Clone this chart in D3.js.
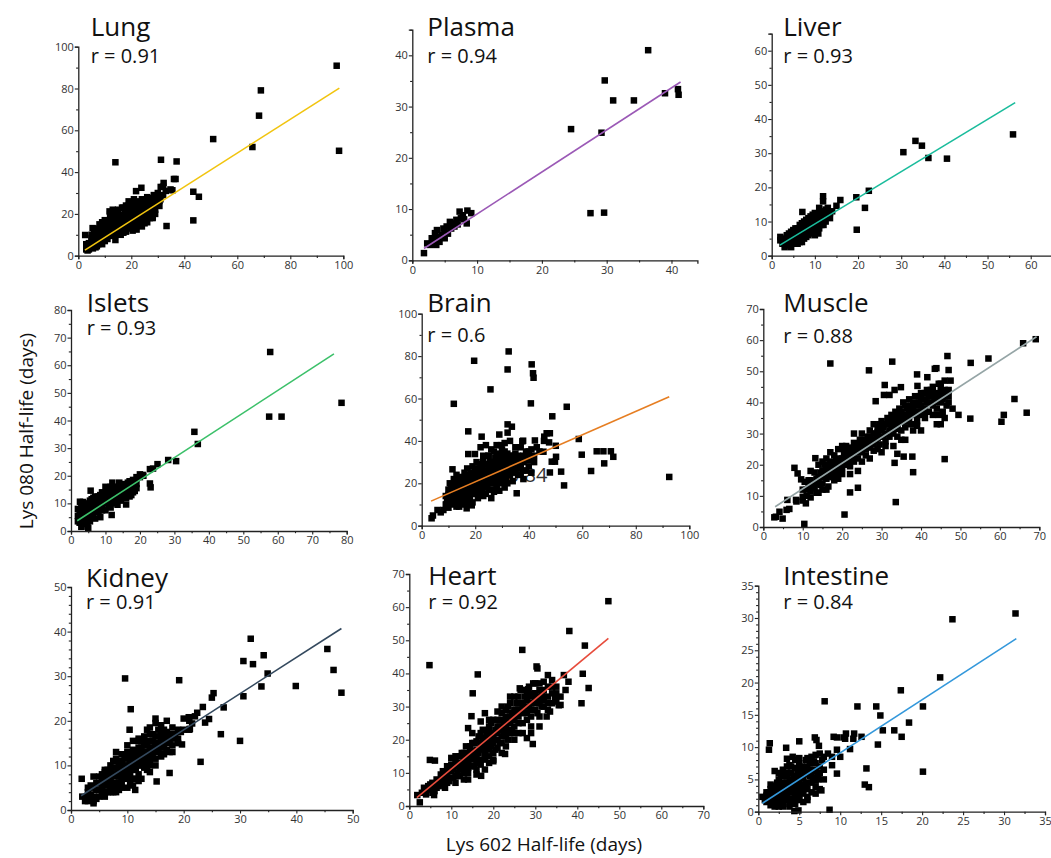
<!DOCTYPE html>
<html>
<head>
<meta charset="utf-8">
<script src="https://cdn.jsdelivr.net/npm/d3@7"></script>
<style>
	body { margin: 0; background: #fff; }
	svg { display: block; font-family: "Open Sans", sans-serif; }
</style>
</head>
<body>
<svg id="chart" width="1051" height="858"></svg>
<script>
	'use strict';

	// ---- data ----
	var tissues = ['Lung', 'Plasma', 'Liver', 'Islets', 'Brain', 'Muscle', 'Kidney', 'Heart', 'Intestine'];
	var rValues = ['0.91', '0.94', '0.93', '0.93', '0.6', '0.88', '0.91', '0.92', '0.84'];
	var lineColors = ['#f1c40f', '#9b59b6', '#1abc9c', '#3cc06a', '#e67e22', '#95a5a6', '#34495e', '#e74c3c', '#3498db'];

	var xDomains = [[0, 100], [0, 44], [0, 65], [0, 80], [0, 100], [0, 70], [0, 50], [0, 70], [0, 35]];
	var yDomains = [[0, 100], [0, 45], [0, 65], [0, 80], [0, 100], [0, 70], [0, 50], [0, 70], [0, 35]];

	var lungTicks = [0, 20, 40, 60, 80, 100];
	var plasmaTicks = [0, 10, 20, 30, 40];
	var liverTicks = [0, 10, 20, 30, 40, 50, 60];
	var isletsTicks = [0, 10, 20, 30, 40, 50, 60, 70, 80];
	var brainTicks = [0, 20, 40, 60, 80, 100];
	var muscleTicks = [0, 10, 20, 30, 40, 50, 60, 70];
	var kidneyTicks = [0, 10, 20, 30, 40, 50];
	var heartTicks = [0, 10, 20, 30, 40, 50, 60, 70];
	var intestineTicks = [0, 5, 10, 15, 20, 25, 30, 35];

	var lungFit = [[2.5, 2.7], [98.5, 80.2]];
	var plasmaFit = [[1.8, 2.3], [41.4, 34.8]];
	var liverFit = [[1.9, 3.1], [56.4, 44.8]];
	var isletsFit = [[1.8, 3.7], [76.3, 64.1]];
	var brainFit = [[3.5, 11.6], [92.5, 60.8]];
	var muscleFit = [[3, 6.5], [69.3, 61.1]];
	var kidneyFit = [[1.8, 3.2], [48, 40.7]];
	var heartFit = [[1.8, 2.5], [47.4, 50.6]];
	var intestineFit = [[0.5, 1.3], [31.5, 26.8]];

	var lungPts = [
		[97.5, 90.9], [68.9, 79.1], [68.2, 67.0], [65.7, 52.0], [98.4, 50.2], [50.9, 55.8], [14.0, 44.7], [31.2, 45.9],
		[37.1, 45.1], [43.4, 30.6], [45.5, 28.2], [43.4, 16.9], [33.3, 14.2], [2.6, 9.9], [5.4, 13.2], [11.8, 21.2],
		[21.8, 30.9], [23.8, 32.5], [36.1, 36.7], [36.7, 36.7], [32.2, 34.8], [31.1, 32.9], [34.8, 31.7], [35.5, 31.3],
		[30.6, 23.8], [30.6, 26.2], [28.1, 18.3], [27.7, 26.6], [25.8, 27],
		[3, 3], [3.5, 4.5], [4, 3], [4, 6], [4.5, 5], [5, 4], [5, 7], [5.5, 3.5], [6, 5.5], [6, 8], [6.5, 6.5], [7, 4.5],
		[7, 9], [7.5, 7], [8, 6], [8, 10], [8.5, 8], [9, 5.5], [9, 11.5], [9.5, 9], [10, 7], [10, 13], [10.5, 10.5],
		[11, 8], [11, 15], [11.5, 12], [12, 9.5], [12, 17], [12.5, 13.5], [13, 11], [13, 19], [13.5, 15.5], [14, 10],
		[14, 20], [14.5, 13], [15, 17], [15, 22], [15.5, 12], [16, 15], [16, 19.5], [16.5, 23], [17, 13], [17, 17],
		[17.5, 21], [18, 11.5], [18, 15], [18, 24], [18.5, 19], [19, 13], [19, 22], [19.5, 17], [20, 15], [20, 20],
		[20, 25], [20.5, 12], [21, 18], [21, 23], [21.5, 14.5], [22, 21], [22, 26], [22.5, 17], [23, 19], [23, 24],
		[23.5, 15], [24, 22], [24, 27], [25, 18], [25, 25], [25.5, 21], [26, 16], [26, 28], [26.5, 23], [27, 20],
		[27, 26], [28, 18], [28, 24], [28.5, 29], [29, 22], [29, 27], [30, 25], [30, 30], [31, 27], [32, 29], [32, 33],
		[33, 31], [11, 12], [13, 14], [15, 14], [17, 19], [19, 18], [21, 20], [23, 21], [8, 8], [10, 9], [12, 11],
		[6, 7], [14, 16], [16, 16], [18, 18], [20, 18], [22, 22], [24, 20], [25, 22], [27, 23], [7, 13], [8, 15],
		[9, 16], [10, 17], [6, 11], [5, 10], [12, 20], [13, 22], [14, 7.5], [16, 10], [22, 12.5], [24, 14], [26, 19],
		[19, 26], [21, 27],
		[3.5, 2.5], [4.5, 3.8], [5.5, 5.5], [6.5, 4], [7.5, 5.5], [8.5, 6.8], [9.5, 7.5], [10.5, 8.5], [11.5, 9.5],
		[12.5, 10.5], [13.5, 12], [14.5, 14.5], [15.5, 16], [16.5, 17], [17.5, 18.5], [18.5, 20.5], [19.5, 21],
		[20.5, 22], [21.5, 24], [22.5, 23], [23.5, 25.5], [24.5, 24], [25.5, 26], [26.5, 25], [27.5, 27.5], [28.5, 26],
		[29.5, 28], [7, 11], [9, 13.5], [11, 16.5], [13, 17], [15, 19.5], [17, 23], [19, 24], [10, 11], [12, 13],
		[14, 14.5], [16, 13.5], [18, 16.5], [20, 16.5], [22, 18.5], [24, 17], [26, 21.5], [28, 21], [15, 11], [17, 11],
		[19, 14.5], [21, 15.5], [23, 17.5], [25, 15.5], [27, 18], [29, 20], [6.5, 9.5], [8.5, 12], [5, 8.5], [4, 4.5],
		[3, 5.5]
	];

	var plasmaPts = [
		[36.4, 41.0], [29.7, 35.1], [31.0, 31.2], [34.2, 31.2], [39.0, 32.6], [41.0, 33.4], [41.1, 32.3], [24.5, 25.6],
		[29.2, 24.9], [27.5, 9.2], [29.6, 9.3], [1.8, 1.4],
		[2.3, 3.3], [2.7, 3.0], [3, 4.3], [3.2, 3.5], [3.5, 5.3], [3.7, 3.0], [3.8, 5.9], [4, 4.5], [4.2, 3.6], [4.5, 5],
		[5, 4.3], [5.3, 6.6], [5.5, 5.2], [5.8, 7.5], [6, 6.2], [6.5, 6.6], [6.8, 7.9], [7, 7], [7.3, 9.5], [7.5, 8.2],
		[8, 8], [8.4, 7.2], [8.5, 9.7], [9.1, 9.2], [4.8, 6.2], [3, 3.2], [6.2, 7.2], [7.8, 8.8], [5, 5.8], [4, 4]
	];

	var liverPts = [
		[55.9, 35.5], [30.5, 30.3], [33.3, 33.6], [34.8, 32.2], [36.3, 28.6], [40.6, 28.4], [19.6, 17.1], [22.5, 19.0],
		[21.6, 14.0], [19.7, 7.6], [15.9, 16.3], [15.0, 14.6], [11.9, 17.4], [11.9, 15.9], [7.1, 12.8], [10.8, 6.5],
		[2, 4.5], [2, 5.5], [2.5, 3.5], [3, 5], [3, 2.5], [3.5, 4], [3.5, 6], [4, 3], [4, 5], [4.5, 2.5], [4.5, 7],
		[5, 4], [5, 6], [5.5, 3.5], [5.5, 8], [6, 5], [6, 7], [6.5, 4], [6.5, 9], [7, 6], [7, 8], [7.5, 5], [7.5, 10],
		[8, 7], [8, 9], [8.5, 6], [8.5, 11], [9, 8], [9, 10], [9.5, 7], [9.5, 12], [10, 9], [10, 11], [10.5, 7.5],
		[10.5, 10], [11, 9], [11, 12.5], [11.5, 10.5], [12, 11.5], [12, 13], [12.5, 10], [13, 12], [13, 14], [13.5, 11],
		[14, 13], [9, 6.5], [10, 6], [11, 8], [8, 5.5], [7, 4], [6, 3.5], [12, 9],
		[2.5, 4.8], [3, 3.8], [3.5, 5], [4, 6.5], [4.5, 5.5], [5, 5], [5, 7.5], [5.5, 6], [6, 8], [6, 6], [6.5, 7],
		[7, 7], [7, 9.5], [7.5, 8.5], [8, 8], [8, 10.5], [8.5, 9.5], [9, 9], [9, 11.5], [9.5, 10.5], [10, 10],
		[10, 12.5], [10.5, 11.5], [11, 10], [11, 14], [11.5, 12.5], [12, 12], [12.5, 13.5], [13, 13], [13.5, 12.5],
		[12, 10.5], [10, 7.5], [8.5, 7.5], [7.5, 6.5], [6.5, 5.5], [5.5, 4.5], [4.5, 4], [9.5, 8.5], [11.5, 9], [3, 4.3]
	];

	var isletsPts = [
		[57.8, 64.8], [57.5, 41.4], [61.1, 41.4], [78.5, 46.4], [35.8, 35.9], [36.8, 31.5], [28.2, 25.7], [30.5, 25.3],
		[25.1, 24.2], [22.9, 22.4], [23.8, 22.6], [22.9, 17.2], [23.1, 15.8], [20.8, 20.3], [20, 19.5], [11.8, 5.8],
		[5.7, 14.6], [16, 9.6], [2.6, 10.6], [4.8, 1.6], [5, 1],
		[2, 5.5], [2.5, 3], [2.5, 7.5], [3, 1.5], [3, 9], [3.5, 5], [3.5, 10.5], [4, 3], [4, 7], [4.5, 9], [4.5, 4.5],
		[5, 6], [5, 10], [5.5, 3.5], [6, 8], [6, 11.5], [6.5, 5.5], [7, 9.5], [7, 4.5], [7.5, 11], [8, 7], [8, 12.5],
		[8.5, 5], [9, 9], [9, 14], [9.5, 11], [10, 7.5], [10, 13], [10, 16], [10.5, 10], [11, 12], [11, 15], [11.5, 8.5],
		[12, 14], [12, 17.5], [12.5, 11], [13, 13], [13, 16], [13.5, 9.5], [14, 12], [14, 15], [14, 17.5], [14.5, 11],
		[15, 14], [15, 16.5], [15.5, 13], [16, 12], [16, 15.5], [16.5, 17.5], [17, 14], [17, 18], [17.5, 13], [18, 16],
		[18, 18.5], [18.5, 14.5], [19, 17], [19, 19.5], [20, 20.5], [21, 20], [17, 12.5], [13, 10.5], [11, 10],
		[8, 8.5], [6, 7], [4, 5], [5.5, 8], [9, 11.5], [12, 12],
		[2, 3.5], [2, 8], [3, 6.5], [3.5, 7.5], [4, 9.5], [4.5, 6], [5, 8], [5.5, 11], [6, 5], [6, 9.5], [6.5, 12],
		[7, 7], [7.5, 8.5], [8, 10], [8.5, 13], [9, 7.5], [9.5, 13], [10, 10], [10.5, 14], [11, 9], [11.5, 16],
		[12, 10], [12.5, 15], [13, 12], [13.5, 14], [14, 13.5], [14.5, 16], [15, 12.5], [15.5, 17], [16, 14],
		[16.5, 15.5], [17, 16], [17.5, 17], [18, 14], [18.5, 18], [19, 15.5], [10, 12], [8, 11], [7, 12.5], [12, 16],
		[3, 3.5], [4.5, 2.5], [5, 4.5]
	];

	var brainPts = [
		[32.5, 82.2], [19.6, 77.8], [32.1, 73.7], [41.1, 76.1], [41.6, 71.9], [41.8, 69.8], [25.7, 64.3], [12.0, 57.5],
		[40.8, 57.7], [54.2, 56.1], [48.8, 51.6], [17.4, 44.5], [32.1, 47.8], [33.7, 46.7], [32.1, 43.9], [22.4, 42.0],
		[58.7, 40.9], [59.8, 33.5], [65.4, 35.1], [67.9, 35.1], [70.7, 35.1], [68.2, 29.4], [71.6, 32.5], [63.3, 25.8],
		[52.1, 25.5], [53.2, 19.0], [92.5, 23.0], [50.2, 32.5], [48.6, 30.2], [49.8, 30.2], [47.9, 25.1], [46.7, 43.6],
		[47.9, 43.6], [45.8, 42], [45.7, 40], [47.6, 39.3], [50.1, 37.7], [45.5, 34.9], [42.3, 40.2], [37.6, 39.8],
		[17.4, 33.8], [19.9, 33.8], [16.8, 8.2], [18.7, 9.6], [35.5, 15.3], [3.7, 3.5], [4.2, 4.8], [5.9, 7.4],
		[7.1, 6.3], [9.3, 10.2], [8.1, 7.4], [11.5, 26.6], [28, 33], [29.6, 38], [37.9, 40.1],
		[9, 10], [9, 14], [10, 12], [10, 17], [10, 8.5], [11, 11], [11, 15], [11, 19], [11.5, 13], [12, 10], [12, 17],
		[12, 22], [12.5, 14], [13, 12], [13, 19], [13, 24], [13.5, 16], [14, 11], [14, 14], [14, 21], [14.5, 18],
		[15, 13], [15, 16], [15, 23], [15.5, 20], [16, 12], [16, 18], [16, 25], [16.5, 15], [17, 21], [17, 27],
		[17.5, 17], [18, 14], [18, 19], [18, 24], [18.5, 16], [19, 22], [19, 28], [19.5, 18], [20, 15], [20, 20],
		[20, 25], [20.5, 30], [21, 17], [21, 23], [21.5, 27], [22, 19], [22, 21], [22, 29], [22.5, 16], [23, 24],
		[23, 31], [23.5, 20], [24, 18], [24, 26], [24.5, 22], [25, 28], [25, 33], [25.5, 20], [26, 24], [26, 30],
		[26.5, 17], [27, 22], [27, 27], [27.5, 32], [28, 19], [28, 25], [28.5, 29], [29, 23], [29, 34], [29.5, 27],
		[30, 20], [30, 31], [30.5, 25], [31, 28], [31, 35], [31.5, 22], [32, 30], [32, 26], [33, 33], [33, 24],
		[33.5, 28], [34, 31], [34, 21], [35, 26], [35, 34], [36, 29], [36, 24], [37, 32], [37, 27], [38, 30],
		[38, 22], [39, 35], [39, 26], [40, 31], [40, 28], [41, 36], [41, 25], [42, 30], [42, 33], [43, 37], [44, 35],
		[21, 13], [19, 11], [17, 10.5], [24, 15], [27, 16], [31, 18], [23, 14], [26, 13], [29, 16.5], [13, 9],
		[15, 10], [25, 24], [24, 23], [28, 27], [30, 26], [32, 32], [20, 22], [22, 25], [18, 21], [16, 20], [14, 17],
		[12, 15], [26, 27], [34, 27], [36, 31], [38, 33], [40, 35],
		[10, 14.5], [10.5, 20], [11, 13], [11.5, 17], [12, 19.5], [12.5, 12], [13, 15], [13, 21.5], [13.5, 18],
		[14, 12.5], [14, 19], [14.5, 15.5], [15, 18], [15, 21], [15.5, 14], [16, 16], [16, 22], [16.5, 19], [17, 15],
		[17, 23], [17.5, 19.5], [18, 17], [18, 22], [18.5, 25], [19, 16], [19, 20], [19.5, 23], [20, 18], [20, 27],
		[20.5, 21], [21, 19], [21, 25], [21.5, 22], [22, 17], [22, 23], [22.5, 27], [23, 20], [23, 22], [23.5, 26],
		[24, 24], [24, 29], [24.5, 19], [25, 22], [25, 26], [25.5, 30], [26, 21], [26, 28], [26.5, 25], [27, 24],
		[27, 30], [27.5, 20], [28, 23], [28, 29], [28.5, 26], [29, 21], [29, 30], [29.5, 24], [30, 28], [30, 33],
		[30.5, 22], [31, 25], [31, 31], [31.5, 29], [32, 24], [32, 34], [33, 27], [33, 30], [34, 25], [34, 33],
		[35, 29], [35, 31], [36, 27], [36, 33], [37, 29], [38, 26], [39, 31], [40, 33], [37, 24], [22, 14.5],
		[25, 17], [28, 17.5], [32, 20], [18, 12.5], [14, 9], [11, 17], [10, 10.5], [9.5, 12],
		[22, 37], [24, 38], [26, 36], [28, 38], [30, 36], [31, 39], [33, 40], [29, 43], [35, 37], [37, 37], [27, 35],
		[25, 33], [23, 33]
	];

	var musclePts = [
		[69.1, 60.3], [65.9, 59.0], [57.1, 54.1], [52.6, 52.7], [46.7, 54.9], [47.0, 50.4], [43.9, 51.0], [43.5, 50.8],
		[32.7, 53.1], [26.8, 50.3], [17.0, 52.5], [63.7, 41.1], [61.0, 36.0], [60.4, 33.8], [66.8, 36.7], [52.5, 34.8],
		[49.5, 36.0], [46.0, 21.8], [38.0, 17.6], [33.6, 8.0], [20.6, 4.0], [10.4, 1.0], [24.0, 12.6], [22.0, 11.1],
		[33.3, 20.6], [35.6, 22.6], [37.8, 22.6], [30.6, 42.4], [32.0, 42.4], [34.9, 44.9], [30.8, 45.6], [33.3, 44.0],
		[39.0, 49.0], [41.6, 48.1], [39.1, 45.3], [28.5, 40.4], [7.9, 19.0], [8.7, 17.2], [9.6, 15.3], [13.2, 22.1],
		[3.2, 3.3], [2.8, 3.1], [4.9, 2.7], [4.1, 4.9], [5.9, 5.5], [6.6, 5.8], [6.1, 8.7], [8.3, 8.7], [8.4, 8.2],
		[10, 9.7], [10.8, 7.6],
		[10, 12], [10.5, 14.5], [11, 10], [11.5, 13], [12, 11.5], [12, 15], [12.5, 12.5], [13, 14], [13, 17.5],
		[13.5, 11], [14, 16], [14.5, 13.5], [15, 18], [15, 14], [15.5, 20], [16, 15.5], [16, 22], [16.5, 13], [17, 18],
		[17, 21], [17.5, 16], [18, 20], [18, 23], [18.5, 17], [19, 21], [19, 25], [19.5, 18.5], [20, 22], [20, 19],
		[20.5, 24], [21, 20], [21, 26], [21.5, 22], [22, 23.5], [22, 19.5], [22.5, 25.5], [23, 21], [23, 27],
		[23.5, 24], [24, 22], [24, 26], [24.5, 28], [25, 24], [25, 30], [25.5, 26], [26, 27], [26, 23], [26.5, 29],
		[27, 25.5], [27, 31], [27.5, 28], [28, 27], [28, 33], [28.5, 30], [29, 28.5], [29, 32], [29.5, 26.5], [30, 31],
		[30, 34], [30.5, 29], [31, 33], [31, 27.5], [31.5, 35], [32, 31], [32, 29], [32.5, 36], [33, 33], [33, 30],
		[33.5, 37], [34, 35], [34, 31.5], [34.5, 38], [35, 34], [35, 28], [35.5, 40], [36, 36], [36, 32], [36.5, 38],
		[37, 35], [37, 41], [37.5, 33], [38, 38], [38, 36], [38.5, 42], [39, 37], [39, 34], [39.5, 40], [40, 39],
		[40, 43], [40.5, 36], [41, 41], [41, 38], [41.5, 44], [42, 40], [42, 37], [42.5, 42], [43, 39], [43, 45],
		[43.5, 41], [44, 43], [44, 38], [44.5, 46], [45, 40], [45, 44], [45.5, 37], [46, 42], [46, 47], [46.5, 39],
		[47, 44], [47, 40], [47.5, 47], [48, 38], [44.5, 36], [45, 33], [40, 31], [38, 31], [39, 32.5], [36, 28],
		[33, 26], [34, 23.5], [29, 25], [27, 22], [24, 18], [20, 17], [18, 15], [16, 12], [14, 11], [12, 9.5],
		[15, 12], [10, 8.5], [19, 15.5], [23, 30], [20, 26], [17, 24], [14, 20], [12, 18], [15, 21],
		[11, 12], [11.5, 15], [12, 13.5], [13, 12.5], [13.5, 15.5], [14, 14], [14.5, 17.5], [15, 16], [15.5, 17],
		[16, 18.5], [16.5, 20], [17, 16.5], [17.5, 19], [18, 18], [18.5, 21.5], [19, 19.5], [19.5, 22], [20, 20.5],
		[20.5, 22.5], [21, 23.5], [21.5, 20.5], [22, 25], [22.5, 22], [23, 24.5], [23.5, 26], [24, 24], [24.5, 25.5],
		[25, 27], [25.5, 28], [26, 25], [26.5, 27], [27, 29], [27.5, 26.5], [28, 30], [28.5, 28], [29, 30.5],
		[29.5, 33], [30, 29], [30.5, 32], [31, 30], [31.5, 33], [32, 34], [32.5, 32], [33, 35], [33.5, 34], [34, 33],
		[34.5, 36], [35, 37], [35.5, 35], [36, 39], [36.5, 34], [37, 37], [37.5, 39], [38, 40], [38.5, 37], [39, 39],
		[39.5, 42], [40, 41], [40.5, 38], [41, 43], [41.5, 40], [42, 42], [42.5, 44], [43, 43], [43.5, 40], [44, 41],
		[44.5, 42], [45, 46], [45.5, 41], [46, 44], [47, 42], [39, 36], [36, 34], [34, 29], [31, 26], [28, 24.5],
		[25, 21], [22, 17], [30, 24], [41, 35], [43, 36], [46, 35], [44, 33], [35, 31]
	];

	var kidneyPts = [
		[1.9, 7.0], [9.6, 29.5], [10.6, 22.6], [10.4, 18.0], [19.2, 29.1], [31.9, 38.4], [30.6, 33.4], [32.3, 32.7],
		[34.2, 34.7], [34.9, 30.6], [33.8, 27.7], [39.9, 27.8], [45.5, 36.1], [46.6, 31.4], [48.0, 26.3], [30.6, 25.5],
		[30.0, 15.5], [26.6, 17.0], [27.1, 23.0], [25.3, 26.2], [25.0, 25.2], [23.4, 23.1], [23.8, 19.6], [24.5, 20.4],
		[23.0, 10.8], [19.7, 14.7], [17.5, 8.3], [15.2, 6.4], [11.4, 4.5], [22.4, 21.8], [20.9, 20.8], [21.1, 18.2],
		[21.5, 19.4],
		[2, 3], [2.5, 2], [3, 4], [3.5, 5.5], [4, 1.5], [4, 3], [4, 7.5], [4.5, 4.5], [5, 6], [5, 3], [5.5, 8],
		[5.5, 5], [6, 4], [6, 7], [6.5, 9], [6.5, 5.5], [7, 6.5], [7, 10], [7.5, 4], [7.5, 8], [8, 9.5], [8, 6],
		[8.5, 11], [8.5, 7.5], [9, 5], [9, 9], [9.5, 12], [9.5, 7], [10, 10], [10, 8], [10.5, 12.5], [10.5, 6],
		[11, 11], [11, 9], [11, 15.5], [11.5, 13], [11.5, 7], [12, 10], [12, 14], [12, 16], [12.5, 12], [13, 9.5],
		[13, 13], [13, 15.5], [13.5, 11], [14, 14], [14, 17], [14, 8.5], [14.5, 12], [15, 15], [15, 10], [15, 19.5],
		[15.5, 13], [16, 16], [16, 12], [16.5, 18], [16.5, 14], [17, 15], [17, 20], [17.5, 13], [18, 17], [18, 14.5],
		[19, 16], [19, 18], [20, 18], [20, 20.5], [21, 20], [21, 18], [22, 21], [13.5, 18], [15, 20.5], [12.5, 7],
		[10, 5], [8, 4], [6, 8.5], [3, 3], [9, 10.5], [11, 12], [14, 11],
		[3, 2], [3.5, 3.5], [4, 5], [4.5, 6], [4.5, 2.5], [5, 4.5], [5, 7.5], [5.5, 3.5], [5.5, 6.5], [6, 5.5], [6, 9],
		[6.5, 4], [6.5, 7.5], [7, 5], [7, 8.5], [7.5, 6], [7.5, 9.5], [7.5, 11], [8, 7.5], [8, 5], [8, 11.5], [8.5, 9],
		[8.5, 4.5], [9, 7], [9, 11], [9.5, 8.5], [9.5, 10], [10, 9], [10, 11.5], [10, 13], [10.5, 8], [10.5, 10.5],
		[11, 7], [11, 13.5], [11.5, 11], [11.5, 9], [12, 12], [12, 8], [12.5, 14], [12.5, 10], [13, 11.5], [13, 14.5],
		[13, 16.5], [13.5, 13], [13.5, 9], [14, 12], [14, 15.5], [14, 10], [14.5, 14], [14.5, 17], [15, 13],
		[15, 16.5], [15, 11.5], [15.5, 15], [15.5, 18], [16, 14], [16, 17], [16.5, 12.5], [16.5, 16], [17, 17.5],
		[17, 13.5], [17.5, 15.5], [18, 13], [18, 16], [18.5, 17], [19, 15], [19.5, 17.5], [9, 6], [7, 4], [6, 3],
		[11, 5.5], [12, 6.5], [4, 2], [3, 5], [10, 14.5], [12, 15.5], [14, 18.5], [16, 19], [8, 13],
		[6.5, 6.5], [7, 7.5], [8, 8], [8.5, 10], [9, 8], [9.5, 9.5], [10, 7], [10.5, 9.5], [11, 10], [11.5, 12],
		[12, 11], [12.5, 13], [13, 12], [13.5, 14.5], [14, 13], [14.5, 15.5], [15, 14], [15.5, 16.5], [16, 15],
		[16.5, 17], [17, 16.5], [18, 18.5], [12, 13], [13, 10.5], [10, 12], [9, 12.5]
	];

	var heartPts = [
		[4.8, 42.5], [16.3, 39.7], [15.1, 34.0], [14.8, 27.1], [26.9, 47.1], [38.1, 52.8], [41.8, 48.4], [47.4, 61.8],
		[41.3, 39.9], [42.7, 35.6], [41.0, 31.0], [37.9, 37.5], [37.2, 35.0], [36.8, 39.5], [32.7, 27.0], [29.4, 18.7],
		[22.8, 15.7], [17.1, 9.1], [4.9, 13.9], [6.1, 13.7], [2.5, 1.1], [1.9, 3.3], [5.9, 3.3], [30.3, 42.1],
		[30.5, 41.5], [35.6, 30.4], [34.7, 32.5], [28.3, 35.2], [26.3, 35.5],
		[3, 4], [3.5, 5.5], [4, 3.5], [4.5, 6], [5, 5], [5.5, 7], [6, 4.5], [6.5, 8], [7, 6], [7.5, 9.5], [8, 7],
		[8, 10.5], [8.5, 5.5], [9, 9], [9, 12], [9.5, 7.5], [10, 10.5], [10, 14.5], [10.5, 8.5], [11, 12], [11, 15],
		[11.5, 10], [12, 13], [12, 9], [12.5, 16], [13, 11.5], [13, 14.5], [13.5, 18], [14, 13], [14, 10], [14.5, 16.5],
		[15, 12], [15, 19], [15.5, 15], [16, 17], [16, 11], [16.5, 21], [17, 14], [17, 19], [17.5, 23], [18, 16.5],
		[18, 28], [18.5, 20], [19, 15], [19, 24], [19.5, 18], [20, 22], [20, 26], [20.5, 17], [21, 20], [21, 28.5],
		[21.5, 24], [22, 19], [22, 26], [22.5, 22], [23, 29], [23, 24.5], [23.5, 20], [24, 27], [24, 31], [24.5, 23],
		[25, 26], [25, 33], [25.5, 29], [26, 25], [26, 31], [26.5, 35], [27, 28], [27, 22], [27.5, 33], [28, 30],
		[28, 26], [28.5, 36], [29, 31], [29, 24], [29.5, 34], [30, 29], [30, 37], [30.5, 32], [31, 27], [31, 35],
		[31.5, 30], [32, 33], [32, 37.5], [33, 31], [33, 36], [33.5, 28.5], [34, 34], [34, 38], [35, 31.5], [35, 36],
		[36, 30.5], [33, 39.5], [28, 20.5], [25, 20], [22, 16], [19, 13], [16, 9.5], [13, 8], [11, 7], [20, 13.5],
		[17, 25.5], [15, 22], [14, 23.5],
		[4, 5], [5, 6.5], [5.5, 4], [6, 6], [6.5, 5.5], [7, 7.5], [7.5, 6.5], [8, 8.5], [8.5, 9], [9, 7], [9, 10.5],
		[9.5, 11], [10, 8.5], [10, 12.5], [10.5, 11], [11, 9], [11, 13.5], [11.5, 12.5], [12, 11], [12, 15], [12.5, 13],
		[13, 10], [13, 16], [13.5, 13], [14, 15], [14, 11.5], [14.5, 18], [15, 14], [15, 16.5], [15.5, 12], [15.5, 19],
		[16, 14.5], [16, 19.5], [16.5, 16], [17, 17], [17, 12.5], [17.5, 20.5], [18, 18], [18, 14], [18.5, 22],
		[19, 17], [19, 21], [19.5, 25], [20, 19], [20, 16], [20.5, 23], [21, 22], [21, 26], [21.5, 19], [22, 23],
		[22, 28], [22.5, 25], [23, 21], [23, 27], [23.5, 30], [24, 25], [24, 22], [24.5, 28], [25, 29], [25, 24],
		[25.5, 31], [26, 27], [26, 33], [26.5, 29], [27, 31], [27, 25], [27.5, 35], [28, 32], [28, 28], [28.5, 30],
		[29, 33], [29, 27], [29.5, 37], [30, 31], [30, 34], [30.5, 28], [31, 33], [31, 37], [31.5, 34], [32, 30],
		[32, 35], [33, 33], [33, 29], [34, 36], [34, 31], [35, 34], [36, 33], [23, 18], [26, 22], [29, 22], [31, 24],
		[20, 14], [18, 11], [14, 8], [24, 33], [22, 30], [19, 26], [17, 22],
		[12, 12], [13, 13], [14, 14], [15, 15], [16, 16], [17, 18], [18, 19.5], [19, 19], [20, 20.5], [21, 24],
		[22, 21], [23, 23], [24, 26], [25, 27.5], [26, 29], [27, 30], [28, 34], [29, 29], [30, 32.5], [31, 31],
		[32, 32], [25, 22], [21, 17.5], [18, 15], [16, 13], [19, 23], [23, 26]
	];

	var intestinePts = [
		[31.4, 30.7], [23.7, 29.8], [22.2, 20.8], [17.4, 18.8], [20.1, 16.3], [14.4, 16.3], [12.1, 16.3], [8.1, 17.1],
		[14.9, 14.9], [18.4, 13.8], [15.2, 12.6], [16.6, 12.6], [17.5, 11.6], [14.6, 10.4], [20.1, 6.2], [13.2, 6.7],
		[13.0, 4.2], [13.5, 3.8], [1.4, 10.6], [1.3, 9.6], [3.4, 9.9], [5.0, 10.9], [6.9, 11.5], [7.1, 11.1],
		[7.4, 10.2], [9.2, 11.6], [9.6, 11.5], [10.7, 12.1], [11.7, 12.1], [12.6, 11.6], [11.6, 11.3], [10.6, 11.3],
		[10.4, 11.5], [11.2, 9.7], [9.6, 9.6], [10, 8.5], [9.0, 7.2], [9.6, 5.9], [7.7, 3.3], [8.7, 0.3], [4.4, 0.1],
		[4.9, 0.2],
		[0.5, 2.3], [1, 1.5], [1, 3], [1.2, 2.2], [1.5, 1], [1.5, 3.5], [1.8, 2.5], [2, 1.5], [2, 4], [2.2, 3],
		[2.5, 0.8], [2.5, 2], [2.5, 5], [2.8, 3.5], [3, 1.5], [3, 4.5], [3, 6.5], [3.3, 2.5], [3.5, 3.5], [3.5, 5.5],
		[3.8, 1.2], [4, 3], [4, 4.5], [4, 7], [4.2, 8.5], [4.3, 2], [4.5, 5.5], [4.5, 3.5], [4.8, 6.5], [5, 4.5],
		[5, 2.5], [5, 7.5], [5.3, 5.5], [5.5, 3.5], [5.5, 6.5], [5.8, 8], [6, 4.5], [6, 7], [6.3, 5.5], [6.5, 3],
		[6.5, 8.5], [6.8, 6.5], [7, 4.8], [7, 7.5], [7.3, 5.8], [7.5, 9], [7.5, 3.5], [8, 8.5], [8, 5], [3.5, 8.2],
		[2, 6.3], [5.5, 1.5], [3, 2], [2, 2.5], [4, 1.5], [6, 2.3],
		[0.8, 1.8], [1, 2.5], [1.3, 3], [1.5, 2], [1.7, 1.5], [1.8, 3.8], [2, 0.8], [2, 3.2], [2.3, 2], [2.3, 4.5],
		[2.5, 1.3], [2.5, 3.8], [2.7, 2.8], [2.8, 5.5], [3, 0.8], [3, 3.2], [3.2, 4], [3.3, 1.8], [3.3, 6], [3.5, 2.3],
		[3.5, 4.5], [3.7, 3], [3.8, 5], [3.8, 7.2], [4, 2], [4, 3.8], [4, 6], [4.2, 4.2], [4.3, 5.3], [4.5, 2.8],
		[4.5, 4.5], [4.5, 6.8], [4.5, 8], [4.7, 3.8], [4.8, 5.8], [5, 3.3], [5, 5], [5, 6.8], [5, 8.3], [5.2, 4.2],
		[5.3, 7], [5.5, 5.2], [5.5, 2.8], [5.7, 6], [5.8, 4.3], [6, 5.8], [6, 8.3], [6, 3.5], [6.2, 6.5], [6.3, 7.5],
		[6.5, 4.5], [6.5, 6], [6.7, 5.3], [6.8, 7.8], [7, 6.3], [7, 3.8], [7, 8.8], [7.3, 5], [7.5, 7], [7.5, 6],
		[7.8, 8], [8, 6.5], [3, 5.5], [3.5, 7], [2.5, 6], [1.5, 4.2], [4.5, 1.2], [5, 1.8], [3.8, 0.8], [6, 1.8],
		[7, 2.8], [8.5, 9], [9, 8.5]
	];

	// ---- layout ----
	var layout = [
		{x: [78.3, 343.3], y: [255.7, 46.7], title: [90.7, 35.7], r: [90.7, 63], xMinor: 10, yMinor: 10},
		{x: [412.3, 697.4], y: [260.3, 29.7], title: [427.3, 35.5], r: [427.3, 63], xMinor: 5, yMinor: 5},
		{x: [771.7, 1052.3], y: [255.7, 33.6], title: [783.3, 35.7], r: [783.3, 63], xMinor: 5, yMinor: 5},
		{x: [71, 346.7], y: [531, 310], title: [86.7, 311.7], r: [86.7, 335], xMinor: 5, yMinor: 5},
		{x: [421.7, 689.3], y: [525.7, 313.7], title: [427.3, 311.7], r: [427.3, 341.7], xMinor: 10, yMinor: 10},
		{x: [763.3, 1039.3], y: [527, 309], title: [783.3, 311.7], r: [783.3, 343.3], xMinor: 5, yMinor: 5},
		{x: [71, 352.7], y: [810, 587], title: [86, 586.7], r: [86, 609.3], xMinor: 5, yMinor: 2},
		{x: [409.3, 703.3], y: [806, 574], title: [428.3, 585.3], r: [428.3, 609.3], xMinor: 5, yMinor: 5},
		{x: [758.3, 1045], y: [811.7, 585.7], title: [783.3, 584.5], r: [783.3, 609.3], xMinor: 2.5, yMinor: 1}
	];

	var allPts = [lungPts, plasmaPts, liverPts, isletsPts, brainPts, musclePts, kidneyPts, heartPts, intestinePts];
	var allFits = [lungFit, plasmaFit, liverFit, isletsFit, brainFit, muscleFit, kidneyFit, heartFit, intestineFit];
	var allTicks = [lungTicks, plasmaTicks, liverTicks, isletsTicks, brainTicks, muscleTicks, kidneyTicks, heartTicks, intestineTicks];

	var svg = d3.select('#chart');
	var markSize = 6.5;

	function drawAxis(g, scale, orient, major, minorStep) {
		var dom = scale.domain();
		var all = d3.range(dom[0], dom[1] + 1e-6, minorStep);
		var axis = (orient === 'bottom' ? d3.axisBottom(scale) : d3.axisLeft(scale))
			.tickValues(all)
			.tickSizeOuter(0)
			.tickSize(3.5)
			.tickPadding(orient === 'bottom' ? 2 : 1)
			.tickFormat(function (d) {
				return major.indexOf(d) >= 0 ? d : '';
			});
		g.call(axis);
		g.attr('font-family', '"Open Sans", sans-serif').attr('font-size', 11).attr('color', '#222');
		g.select('.domain').attr('stroke-width', 1.3);
		g.selectAll('.tick line').attr('stroke-width', 1.1);
		g.selectAll('.tick text').attr('fill', '#333');
		// shorter minor ticks
		g.selectAll('.tick').filter(function (d) {
			return major.indexOf(d) < 0;
		}).select('line').attr(orient === 'bottom' ? 'y2' : 'x2', orient === 'bottom' ? 2.2 : -2.2);
	}

	tissues.forEach(function (name, i) {
		var lay = layout[i];
		var x = d3.scaleLinear().domain(xDomains[i]).range(lay.x);
		var y = d3.scaleLinear().domain(yDomains[i]).range(lay.y);
		var panel = svg.append('g').attr('class', 'panel');

		// the stray R² label sits under the brain points
		if (name === 'Brain') {
			panel.append('text')
				.attr('x', 466.7).attr('y', 482.3)
				.attr('font-size', 20).attr('fill', '#333')
				.text('R² = 0.84');
		}

		panel.append('g').selectAll('rect')
			.data(allPts[i])
			.enter().append('rect')
			.attr('x', function (d) { return x(d[0]) - markSize / 2; })
			.attr('y', function (d) { return y(d[1]) - markSize / 2; })
			.attr('width', markSize)
			.attr('height', markSize)
			.attr('fill', '#000');

		var line = d3.line()
			.x(function (d) { return x(d[0]); })
			.y(function (d) { return y(d[1]); });

		panel.append('path')
			.datum(allFits[i])
			.attr('fill', 'none')
			.attr('stroke', lineColors[i])
			.attr('stroke-width', 1.6)
			.attr('d', line);

		drawAxis(panel.append('g').attr('transform', 'translate(0,' + lay.y[0] + ')'), x, 'bottom', allTicks[i], lay.xMinor);
		drawAxis(panel.append('g').attr('transform', 'translate(' + lay.x[0] + ',0)'), y, 'left', allTicks[i], lay.yMinor);

		panel.append('text')
			.attr('x', lay.title[0]).attr('y', lay.title[1])
			.attr('font-size', 26).attr('fill', '#111')
			.text(name);
		panel.append('text')
			.attr('x', lay.r[0]).attr('y', lay.r[1])
			.attr('font-size', 20).attr('fill', '#111')
			.text('r = ' + rValues[i]);
	});

	// shared axis titles
	svg.append('text')
		.attr('transform', 'translate(33,431) rotate(-90)')
		.attr('text-anchor', 'middle')
		.attr('font-size', 19).attr('fill', '#111')
		.text('Lys 080 Half-life (days)');

	svg.append('text')
		.attr('x', 544).attr('y', 851)
		.attr('text-anchor', 'middle')
		.attr('font-size', 19).attr('fill', '#111')
		.text('Lys 602 Half-life (days)');
</script>
</body>
</html>
